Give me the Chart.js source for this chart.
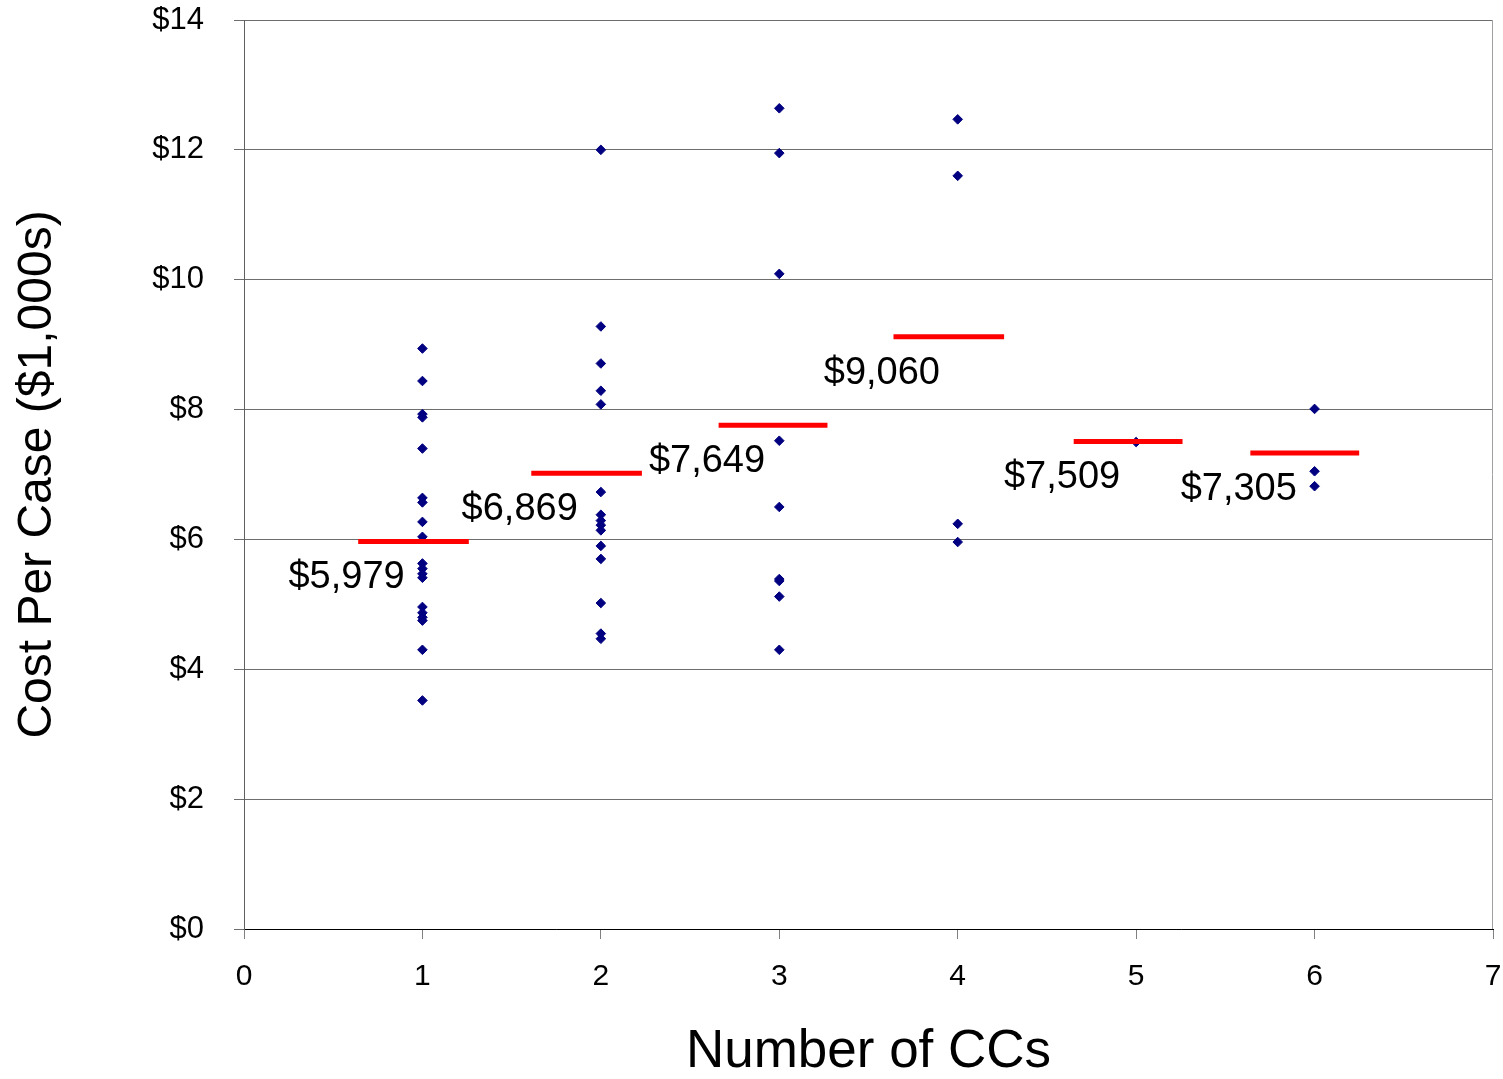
<!DOCTYPE html>
<html>
<head>
<meta charset="utf-8">
<script src="https://cdn.jsdelivr.net/npm/chart.js@4.4.1/dist/chart.umd.min.js"></script>
<style>
  html, body { margin: 0; padding: 0; background: #fff; }
</style>
</head>
<body>
<canvas id="costChart" width="1503" height="1079"></canvas>
<script>
// Cost per case ($1,000s) by number of CCs
const ccCounts = [1, 2, 3, 4, 5, 6];
const costs1 = [8.94, 8.44, 7.93, 7.88, 7.40, 6.64, 6.57, 6.27, 6.04, 5.63, 5.55, 5.47, 5.41, 4.96, 4.87, 4.80, 4.75, 4.30, 3.52];
const costs2 = [12.00, 9.28, 8.71, 8.29, 8.08, 6.73, 6.38, 6.29, 6.22, 6.14, 5.90, 5.70, 5.02, 4.55, 4.47];
const costs3 = [12.64, 11.95, 10.09, 7.52, 6.50, 5.39, 5.36, 5.12, 4.30];
const costs4 = [12.47, 11.60, 6.24, 5.96];
const costs5 = [7.50];
const costs6 = [8.01, 7.05, 6.82];
// red mean bars: level and x extent
const meanCost = [5.97, 7.02, 7.76, 9.12, 7.51, 7.33];
const meanBarFrom = [0.64, 1.61, 2.66, 3.64, 4.65, 5.64];
const meanBarTo = [1.26, 2.23, 3.27, 4.26, 5.26, 6.25];
const meanLabels = ['$5,979', '$6,869', '$7,649', '$9,060', '$7,509', '$7,305'];
const xTickValues = [0, 1, 2, 3, 4, 5, 6, 7];
const yTickValues = [0, 2, 4, 6, 8, 10, 12, 14];

const FONT = '"Liberation Sans", Arial, sans-serif';
const costGroups = [costs1, costs2, costs3, costs4, costs5, costs6];

const scatterPoints = [];
costGroups.forEach((group, i) => {
  group.forEach(v => scatterPoints.push({ x: ccCounts[i], y: v }));
});

const meanDatasets = meanCost.map((m, i) => ({
  type: 'scatter',
  showLine: true,
  data: [{ x: meanBarFrom[i], y: m }, { x: meanBarTo[i], y: m }],
  borderColor: '#ff0000',
  borderWidth: 5,
  pointRadius: 0,
  order: 0
}));

// text labels just left of / below each mean bar
const meanLabelPlugin = {
  id: 'meanLabels',
  afterDatasetsDraw(chart) {
    const { ctx, scales: { x, y } } = chart;
    ctx.save();
    ctx.fillStyle = '#000';
    ctx.font = '38px ' + FONT;
    ctx.textAlign = 'center';
    ctx.textBaseline = 'middle';
    meanLabels.forEach((label, i) => {
      const px = x.getPixelForValue(meanBarFrom[i] - 0.065);
      const py = y.getPixelForValue(meanCost[i] - 0.56);
      ctx.fillText(label, px, py);
    });
    ctx.restore();
  }
};

// thin frame line on the right edge of the plot
const frameRightPlugin = {
  id: 'frameRight',
  beforeDatasetsDraw(chart) {
    const { ctx, chartArea } = chart;
    ctx.save();
    ctx.strokeStyle = '#a0a0a0';
    ctx.lineWidth = 1;
    ctx.beginPath();
    ctx.moveTo(Math.round(chartArea.right) - 0.5, chartArea.top);
    ctx.lineTo(Math.round(chartArea.right) - 0.5, chartArea.bottom);
    ctx.stroke();
    ctx.restore();
  }
};

new Chart(document.getElementById('costChart'), {
  type: 'scatter',
  data: {
    datasets: [
      ...meanDatasets,
      {
        data: scatterPoints,
        pointStyle: 'rectRot',
        pointRadius: 4.8,
        borderWidth: 1,
        backgroundColor: '#000080',
        borderColor: '#000080',
        order: 1
      }
    ]
  },
  options: {
    responsive: false,
    animation: false,
    devicePixelRatio: 1,
    layout: { padding: { top: 20, right: 10, left: 0, bottom: 0 } },
    plugins: { legend: { display: false }, tooltip: { enabled: false } },
    scales: {
      x: {
        type: 'linear',
        min: 0,
        max: 7,
        afterBuildTicks: s => { s.ticks = xTickValues.map(v => ({ value: v })); },
        afterFit: s => { s.height = 150; s.paddingLeft = 0; s.paddingRight = 0; },
        grid: { drawOnChartArea: false, drawTicks: true, tickLength: 10, color: '#808080' },
        border: { color: '#000', width: 1 },
        ticks: { color: '#000', padding: 20, font: { family: FONT, size: 30 } },
        title: {
          display: true,
          text: 'Number of CCs',
          color: '#000',
          font: { family: FONT, size: 53, lineHeight: 1 },
          padding: { top: -4, bottom: 0 }
        }
      },
      y: {
        min: 0,
        max: 14,
        afterBuildTicks: s => { s.ticks = yTickValues.map(v => ({ value: v })); },
        afterFit: s => { s.width = 244; s.paddingTop = 0; s.paddingBottom = 0; },
        grid: { color: '#6e6e6e', lineWidth: 1, tickLength: 10 },
        border: { color: '#606060', width: 1 },
        ticks: {
          color: '#000',
          padding: 30,
          font: { family: FONT, size: 31 },
          callback: v => '$' + v
        },
        title: {
          display: true,
          text: 'Cost Per Case ($1,000s)',
          color: '#000',
          font: { family: FONT, size: 48, lineHeight: 1.2 },
          padding: { top: 9, bottom: 0 }
        }
      }
    }
  },
  plugins: [meanLabelPlugin, frameRightPlugin]
});
</script>
</body>
</html>
